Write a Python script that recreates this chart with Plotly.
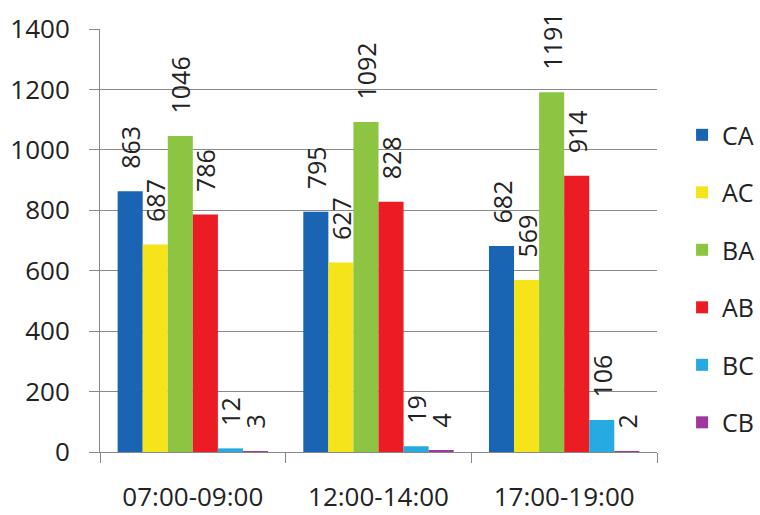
import plotly.graph_objects as go

# Time windows and traffic volumes per movement
periods = ["07:00-09:00", "12:00-14:00", "17:00-19:00"]
series_names = ["CA", "AC", "BA", "AB", "BC", "CB"]
ca = [863, 795, 682]
ac = [687, 627, 569]
ba = [1046, 1092, 1191]
ab = [786, 828, 914]
bc = [12, 19, 106]
cb = [3, 4, 2]
y_ticks = [0, 200, 400, 600, 800, 1000, 1200, 1400]

values = [ca, ac, ba, ab, bc, cb]
colors = ["#1a64b4", "#f5e41a", "#8dc543", "#ec1c24", "#27aae1", "#a0379c"]

FONT = "Open Sans"
TXT = "#222222"
PAD = "\u00a0\u00a0\u00a0"  # lifts the rotated value labels off the bar tops

fig = go.Figure()
for name, vals, col in zip(series_names, values, colors):
    fig.add_trace(go.Bar(
        name=name,
        x=periods,
        y=vals,
        marker=dict(color=col, line=dict(width=0)),
        text=[PAD + str(v) for v in vals],
        textposition="outside",
        textangle=-90,
        textfont=dict(family=FONT, size=25, color=TXT),
        cliponaxis=False,
        legendgroup=name,
    ))

fig.update_layout(
    width=760,
    height=515,
    margin=dict(l=100, r=103, t=29, b=63, autoexpand=False),
    paper_bgcolor="white",
    plot_bgcolor="white",
    barmode="group",
    bargap=0.19,
    bargroupgap=0,
    uniformtext=dict(minsize=25, mode="show"),
    font=dict(family=FONT, size=26, color=TXT),
    showlegend=True,
    legend=dict(
        x=1.045, xanchor="left",
        y=0.41, yanchor="middle",
        font=dict(family=FONT, size=25, color=TXT),
        tracegroupgap=22,
        traceorder="grouped",
        bgcolor="rgba(0,0,0,0)",
        itemwidth=30,
    ),
)

fig.update_xaxes(
    type="category",
    showline=True,
    linecolor="#888888",
    linewidth=1,
    ticks="outside",
    tickson="boundaries",
    ticklen=10,
    tickcolor="#888888",
    showgrid=False,
    ticklabelstandoff=22,
    tickfont=dict(family=FONT, size=26, color=TXT),
)

fig.update_yaxes(
    range=[0, 1400],
    tickvals=y_ticks,
    showline=True,
    linecolor="#888888",
    linewidth=1,
    ticks="outside",
    ticklen=10,
    tickcolor="#888888",
    showgrid=True,
    gridcolor="#8a8a8a",
    gridwidth=1,
    zeroline=False,
    ticklabelstandoff=14,
    tickfont=dict(family=FONT, size=26, color=TXT),
)

fig.write_html("out.html")
